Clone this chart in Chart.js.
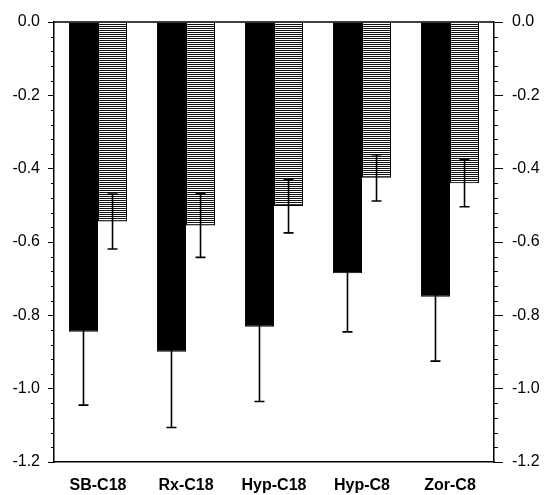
<!DOCTYPE html>
<html><head><meta charset="utf-8">
<script src="https://cdn.jsdelivr.net/npm/chart.js@4/dist/chart.umd.min.js"></script>
<style>html,body{margin:0;padding:0;background:#fff}#wrap{width:544px;height:495px}</style>
</head><body><div id="wrap"><canvas id="c" width="544" height="495"></canvas></div>
<script>
const categories = ['SB-C18','Rx-C18','Hyp-C18','Hyp-C8','Zor-C8'];
const solidValues = [-0.845,-0.899,-0.831,-0.685,-0.749];
const solidErrors = [0.200,0.207,0.204,0.160,0.176];
const hatchValues = [-0.544,-0.555,-0.502,-0.425,-0.440];
const hatchErrors = [0.075,0.087,0.073,0.063,0.064];
const yTickLabels = ['0.0','-0.2','-0.4','-0.6','-0.8','-1.0','-1.2'];
const yMin = -1.2, yMax = 0, majorStep = 0.2, minorStep = 0.04;

function makeHatch(){
  const p = document.createElement('canvas');
  p.width = 4; p.height = 2;
  const g = p.getContext('2d');
  g.fillStyle = '#fff'; g.fillRect(0,0,4,2);
  g.fillStyle = '#111'; g.fillRect(0,0,4,1);
  return document.getElementById('c').getContext('2d').createPattern(p,'repeat');
}
const hatch = makeHatch();
const errorSets = [solidErrors, hatchErrors];
const valueSets = [solidValues, hatchValues];

const errorBars = {
  id:'errorBars',
  afterDatasetsDraw(chart){
    const ctx = chart.ctx, ys = chart.scales.y;
    ctx.save();
    ctx.strokeStyle = '#000'; ctx.lineWidth = 1.6;
    chart.data.datasets.forEach((ds,d)=>{
      const meta = chart.getDatasetMeta(d);
      meta.data.forEach((el,i)=>{
        const v = valueSets[d][i], e = errorSets[d][i];
        const yLo = ys.getPixelForValue(v - e), yHi = ys.getPixelForValue(v + e);
        const x = el.x;
        ctx.beginPath();
        ctx.moveTo(x, yHi); ctx.lineTo(x, yLo);
        ctx.moveTo(x-5, yLo); ctx.lineTo(x+5, yLo);
        ctx.moveTo(x-5, yHi); ctx.lineTo(x+5, yHi);
        ctx.stroke();
      });
    });
    ctx.restore();
  }
};

const frame = {
  id:'frame',
  afterDraw(chart){
    const ctx = chart.ctx, a = chart.chartArea, ys = chart.scales.y;
    ctx.save();
    ctx.strokeStyle = '#000'; ctx.lineWidth = 1.5;
    const y0 = ys.getPixelForValue(0);
    ctx.beginPath(); ctx.moveTo(a.left, y0); ctx.lineTo(a.right, y0); ctx.stroke();
    ctx.lineWidth = 1;
    const n = Math.round((yMax - yMin)/minorStep);
    for(let k=0;k<=n;k++){
      if(k % 5 === 0) continue;
      const y = Math.round(ys.getPixelForValue(yMax - k*minorStep)) + 0.5;
      ctx.beginPath();
      ctx.moveTo(a.left-3, y); ctx.lineTo(a.left, y);
      ctx.moveTo(a.right, y); ctx.lineTo(a.right+4, y);
      ctx.stroke();
    }
    ctx.restore();
  }
};

const tickFont = {family:'"Liberation Sans", Arial, sans-serif', size:16};
const labelCb = v => { const i = Math.round(-v/majorStep); return yTickLabels[i] ?? ''; };

new Chart(document.getElementById('c'), {
  type:'bar',
  data:{
    labels: categories,
    datasets:[
      {data: solidValues, backgroundColor:'#000', borderColor:'#000', borderWidth:1, categoryPercentage:0.66, barPercentage:1},
      {data: hatchValues, backgroundColor: hatch, borderColor:'#000', borderWidth:1.2, categoryPercentage:0.66, barPercentage:1}
    ]
  },
  options:{
    responsive:false, animation:false, devicePixelRatio:1,
    layout:{padding:{top:22,left:0,right:0,bottom:0}},
    plugins:{legend:{display:false}, tooltip:{enabled:false}},
    scales:{
      x:{
        grid:{display:false, drawTicks:false},
        border:{display:true, color:'#000', width:1.5},
        ticks:{color:'#000', padding:14, font:{family:'"Liberation Sans", Arial, sans-serif', size:16, weight:'bold'}},
        afterFit(s){ s.height = 33; }
      },
      y:{
        position:'left', min:yMin, max:yMax,
        ticks:{stepSize:majorStep, callback:labelCb, color:'#000', font:tickFont, padding:8},
        grid:{drawOnChartArea:false, tickLength:6, tickColor:'#000', tickWidth:1},
        border:{color:'#000', width:1.5},
        afterFit(s){ s.width = 54; }
      },
      y2:{
        position:'right', min:yMin, max:yMax,
        ticks:{stepSize:majorStep, callback:labelCb, color:'#000', font:tickFont, padding:9},
        grid:{drawOnChartArea:false, tickLength:9, tickColor:'#000', tickWidth:1},
        border:{color:'#000', width:1.5},
        afterFit(s){ s.width = 50; }
      }
    }
  },
  plugins:[errorBars, frame]
});
</script>
</body></html>
